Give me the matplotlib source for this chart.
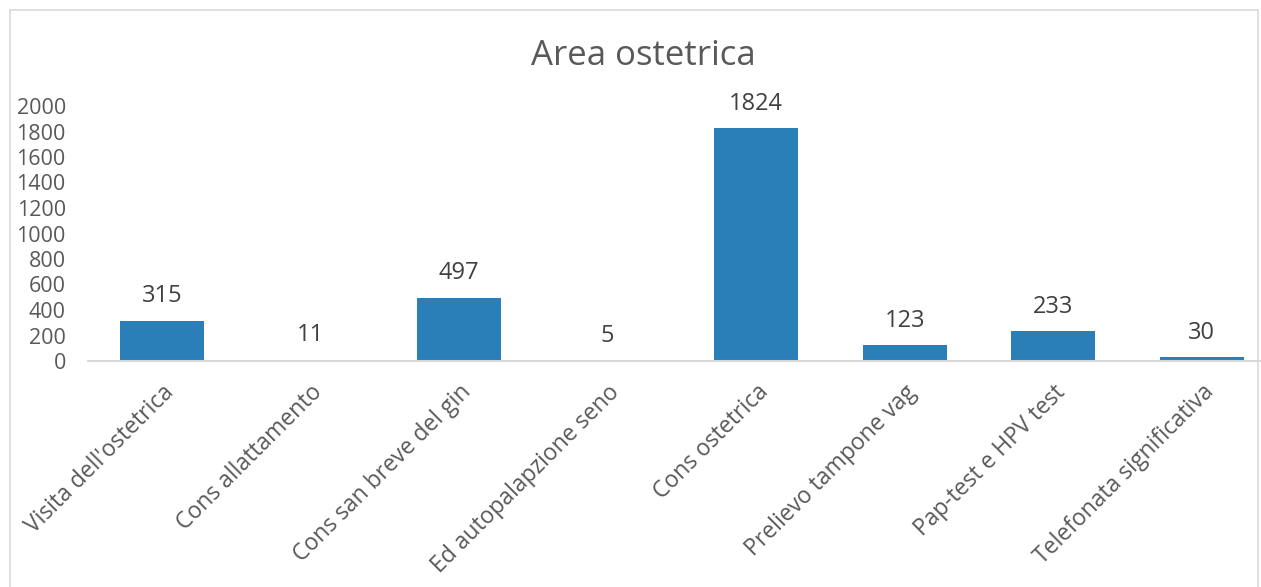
import matplotlib.pyplot as plt
from matplotlib.patches import Rectangle

categories = ["Visita dell'ostetrica", "Cons allattamento", "Cons san breve del gin",
              "Ed autopalapzione seno", "Cons ostetrica", "Prelievo tampone vag",
              "Pap-test e HPV test", "Telefonata significativa"]
values = [315, 11, 497, 5, 1824, 123, 233, 30]
yticks = [0, 200, 400, 600, 800, 1000, 1200, 1400, 1600, 1800, 2000]

plt.rcParams['font.family'] = ['Open Sans', 'DejaVu Sans']
txt = '#595959'
blue = '#2a7fb8'

fig = plt.figure(figsize=(12.61, 5.87), dpi=100)
W, H = 1261, 587
ax = fig.add_axes([88 / W, 1 - 361 / H, (1261 - 88) / W, (361 - 106) / H])

x = range(len(categories))
ax.bar(x, values, width=0.565, color=blue)
for i, v in enumerate(values):
    ax.annotate(str(v), (i, v), xytext=(0, 9), textcoords='offset points',
                ha='center', va='bottom', fontsize=17, color='#404040')

ax.set_xlim(-0.5, 7.4)
ax.set_ylim(0, 2000)
ax.set_yticks(yticks)
ax.set_yticklabels([str(t) for t in yticks], fontsize=15.5, color=txt)
ax.set_xticks(list(x))
ax.set_xticklabels(categories, rotation=45, ha='right', rotation_mode='anchor',
                   fontsize=16.5, color=txt)
ax.tick_params(axis='both', length=0)
ax.tick_params(axis='x', pad=14)
ax.tick_params(axis='y', pad=16)
for s in ['top', 'right', 'left']:
    ax.spines[s].set_visible(False)
ax.spines['bottom'].set_color('#d9d9d9')
ax.spines['bottom'].set_linewidth(1.5)

fig.text(643 / W, 1 - 56 / H, 'Area ostetrica', ha='center', va='center',
         fontsize=25, color=txt)
fig.patches.append(Rectangle((10 / W, -0.01), (1258 - 10) / W, 1.01 - 10 / H,
                             transform=fig.transFigure, fill=False,
                             edgecolor='#d9d9d9', linewidth=1.2))

fig.savefig('out.png', dpi=100)
